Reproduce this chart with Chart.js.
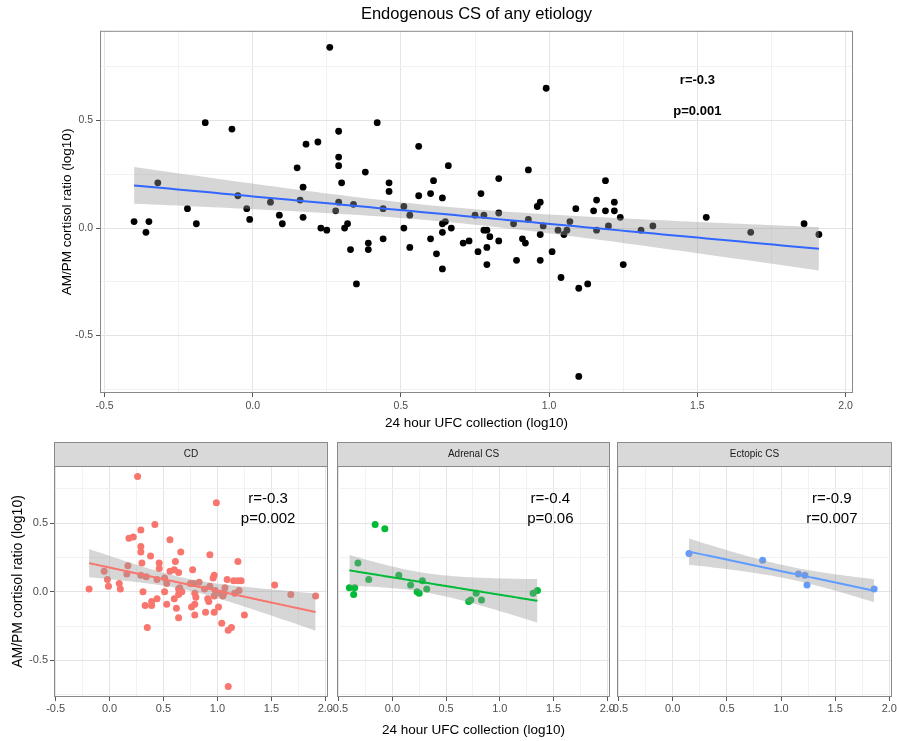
<!DOCTYPE html>
<html>
<head>
<meta charset="utf-8">
<script src="https://cdn.jsdelivr.net/npm/chart.js@4.4.1/dist/chart.umd.min.js"></script>
<style>
  html, body { margin: 0; padding: 0; background: #fff; }
  #wrap { position: relative; width: 899px; height: 741px; overflow: hidden; }
  canvas { position: absolute; }
</style>
</head>
<body>
<div id="wrap">
  <canvas id="top" width="899" height="432" style="left:0;top:0"></canvas>
  <canvas id="cd" width="350" height="311" style="left:0;top:430px"></canvas>
  <canvas id="adrenal" width="313" height="311" style="left:317px;top:430px"></canvas>
  <canvas id="ectopic" width="302" height="311" style="left:597px;top:430px"></canvas>
</div>
<script>
// x = 24 hour UFC (log10), y = AM/PM cortisol ratio (log10), one pair of arrays per etiology
const cdX = [-0.19, -0.05, -0.02, -0.01, 0.09, 0.10, 0.17, 0.16, 0.18, 0.22,
  0.26, 0.29, 0.29, 0.29, 0.30, 0.29, 0.31, 0.33, 0.34, 0.35,
  0.38, 0.39, 0.39, 0.42, 0.44, 0.44, 0.46, 0.46, 0.51, 0.51,
  0.53, 0.53, 0.56, 0.56, 0.60, 0.60, 0.61, 0.62, 0.64, 0.64,
  0.65, 0.64, 0.64, 0.66, 0.67, 0.75, 0.76, 0.77, 0.78, 0.79,
  0.79, 0.79, 0.80, 0.83, 0.88, 0.89, 0.91, 0.92, 0.93, 0.93,
  0.96, 0.97, 0.97, 0.98, 0.97, 0.99, 1.01, 1.03, 1.05, 1.06,
  1.07, 1.09, 1.04, 1.10, 1.13, 1.10, 1.15, 1.16, 1.19, 1.19,
  1.20, 1.22, 1.25, 1.53, 1.68, 1.91];
const cdY = [0.02, 0.15, 0.09, 0.04, 0.06, 0.02, 0.19, 0.13, 0.39, 0.40,
  0.84, 0.45, 0.33, 0.29, 0.21, 0.12, 0.00, -0.10, 0.11, -0.26,
  0.26, -0.07, -0.10, 0.49, 0.09, -0.05, 0.21, 0.17, 0.10, 0.00,
  0.06, -0.09, 0.38, 0.15, -0.05, 0.16, 0.22, -0.12, -0.19, 0.02,
  0.03, -0.02, 0.14, 0.29, 0.00, 0.06, -0.11, 0.16, 0.06, -0.01,
  -0.17, -0.09, -0.04, 0.07, 0.02, -0.15, -0.05, -0.07, 0.04, 0.27,
  0.10, 0.12, -0.03, 0.01, -0.15, 0.65, -0.11, -0.01, -0.03, -0.01,
  0.03, 0.09, -0.23, -0.28, -0.26, -0.69, 0.08, -0.01, 0.08, 0.22,
  0.01, 0.08, -0.17, 0.05, -0.02, -0.03];

const adrenalX = [-0.40, -0.36, -0.35, -0.32, -0.22, -0.16, -0.07, 0.06, 0.17, 0.23,
  0.25, 0.28, 0.32, 0.71, 0.73, 0.78, 0.83, 1.31, 1.35];
const adrenalY = [0.03, -0.02, 0.03, 0.21, 0.09, 0.49, 0.46, 0.12, 0.05, 0.00,
  -0.01, 0.08, 0.02, -0.07, -0.06, -0.01, -0.06, -0.01, 0.01];

const ectopicX = [0.15, 0.83, 1.16, 1.22, 1.24, 1.86];
const ectopicY = [0.28, 0.23, 0.13, 0.12, 0.05, 0.02];

const xTicks = [-0.5, 0, 0.5, 1, 1.5, 2];
const yTicks = [-0.5, 0, 0.5];
const xLim = [-0.515, 2.025];
const yLim = [-0.767, 0.917];

const allX = cdX.concat(adrenalX, ectopicX);
const allY = cdY.concat(adrenalY, ectopicY);

const FONT = '"Liberation Sans", Arial, sans-serif';
Chart.defaults.font.family = FONT;

// two-sided 95% t quantile (Cornish-Fisher expansion)
function t975(df) {
  const z = 1.959964;
  return z + (z ** 3 + z) / (4 * df) + (5 * z ** 5 + 16 * z ** 3 + 3 * z) / (96 * df * df) +
    (3 * z ** 7 + 19 * z ** 5 + 17 * z ** 3 - 15 * z) / (384 * df ** 3);
}

// least squares line with 95% confidence band, like geom_smooth(method = "lm")
function fitBand(xs, ys) {
  const n = xs.length;
  const mx = xs.reduce((a, b) => a + b, 0) / n;
  const my = ys.reduce((a, b) => a + b, 0) / n;
  let sxx = 0, sxy = 0;
  xs.forEach((x, i) => { sxx += (x - mx) ** 2; sxy += (x - mx) * (ys[i] - my); });
  const b = sxy / sxx, a = my - b * mx;
  let ss = 0;
  xs.forEach((x, i) => { ss += (ys[i] - a - b * x) ** 2; });
  const s = Math.sqrt(ss / (n - 2)), t = t975(n - 2);
  const lo = Math.min(...xs), hi = Math.max(...xs);
  const mid = [], up = [], dn = [];
  for (let k = 0; k < 80; k++) {
    const x = lo + (hi - lo) * k / 79;
    const y = a + b * x;
    const se = s * Math.sqrt(1 / n + (x - mx) ** 2 / sxx);
    mid.push({ x, y });
    up.push({ x, y: y + t * se });
    dn.push({ x, y: y - t * se });
  }
  return { mid, up, dn };
}

function gridValues(major, lim) {
  const half = (major[1] - major[0]) / 2;
  const out = [];
  for (let v = major[0] - half; v <= major[major.length - 1] + half + 1e-9; v += half) {
    if (v >= lim[0] && v <= lim[1]) out.push(Math.round(v * 1000) / 1000);
  }
  return out;
}
const isMajor = (major, v) => major.some(m => Math.abs(m - v) < 1e-6);

function axis(major, lim, o) {
  return {
    type: 'linear', min: lim[0], max: lim[1],
    afterBuildTicks: s => { s.ticks = gridValues(major, lim).map(v => ({ value: v })); },
    afterFit: o.fit,
    ticks: {
      display: o.labels !== false, autoSkip: false, maxRotation: 0, minRotation: 0,
      color: '#4D4D4D', font: { size: o.tickSize || 10.5 }, padding: o.tickPad ?? 3,
      callback: v => isMajor(major, v) ? v.toFixed(1) : ''
    },
    grid: {
      color: c => isMajor(major, c.tick.value) ? '#E4E4E4' : '#F2F2F2',
      lineWidth: 1,
      drawTicks: o.labels !== false,
      tickLength: 4,
      tickColor: c => isMajor(major, c.tick.value) ? '#555555' : 'rgba(0,0,0,0)'
    },
    border: { display: false },
    title: o.title ? { display: true, text: o.title, color: '#000', font: { size: o.titleSize || 13.5 },
      padding: o.titlePad || { top: 4, bottom: 3 } } : { display: false }
  };
}

function panelDatasets(xs, ys, pointColor, lineColor, r) {
  const fit = fitBand(xs, ys);
  return [
    { data: fit.mid, showLine: true, borderColor: lineColor, borderWidth: 2, pointRadius: 0, order: 0 },
    { data: fit.up, showLine: true, borderWidth: 0, borderColor: 'rgba(0,0,0,0)', pointRadius: 0, order: 1 },
    { data: fit.dn, showLine: true, borderWidth: 0, borderColor: 'rgba(0,0,0,0)', pointRadius: 0, order: 1,
      fill: '-1', backgroundColor: 'rgba(153,153,153,0.4)' },
    { data: xs.map((x, i) => ({ x, y: ys[i] })), pointRadius: r, pointBackgroundColor: pointColor,
      pointBorderWidth: 0, order: 2 }
  ];
}

// panel frame drawn over everything
const frame = {
  id: 'frame',
  afterDraw(chart) {
    const { ctx, chartArea: a } = chart;
    ctx.save();
    ctx.strokeStyle = '#8A8A8A';
    ctx.lineWidth = 1;
    ctx.strokeRect(a.left + 0.5, a.top + 0.5, a.right - a.left - 1, a.bottom - a.top - 1);
    ctx.restore();
  }
};

function notes(items, font) {
  return {
    id: 'notes',
    afterDatasetsDraw(chart) {
      const { ctx, scales } = chart;
      ctx.save();
      ctx.font = font;
      ctx.fillStyle = '#000';
      ctx.textAlign = 'center';
      ctx.textBaseline = 'middle';
      items.forEach(it => ctx.fillText(it.text, scales.x.getPixelForValue(it.x), scales.y.getPixelForValue(it.y)));
      ctx.restore();
    }
  };
}

function strip(label) {
  return {
    id: 'strip',
    afterDraw(chart) {
      const { ctx, chartArea: a } = chart;
      ctx.save();
      ctx.fillStyle = '#D9D9D9';
      ctx.fillRect(a.left, a.top - 24, a.right - a.left, 24);
      ctx.strokeStyle = '#8A8A8A';
      ctx.strokeRect(a.left + 0.5, a.top - 23.5, a.right - a.left - 1, 24);
      ctx.fillStyle = '#1A1A1A';
      ctx.font = '10px ' + FONT;
      ctx.textAlign = 'center';
      ctx.textBaseline = 'middle';
      ctx.fillText(label, (a.left + a.right) / 2, a.top - 12);
      ctx.restore();
    }
  };
}

const base = {
  responsive: false, animation: false, events: [],
  plugins: { legend: { display: false }, tooltip: { enabled: false } }
};

// top: all etiologies together
new Chart(document.getElementById('top'), {
  type: 'scatter',
  data: { datasets: panelDatasets(allX, allY, '#000000', '#3366FF', 3.4) },
  options: Object.assign({}, base, {
    layout: { padding: { left: 55, right: 46, top: 0, bottom: 0 } },
    plugins: {
      legend: { display: false }, tooltip: { enabled: false },
      title: { display: true, text: 'Endogenous CS of any etiology', color: '#000', fullSize: false,
        font: { size: 16.5, weight: 'normal' }, padding: { top: 5, bottom: 6 } }
    },
    scales: {
      x: axis(xTicks, xLim, { fit: s => { s.height = 39; }, title: '24 hour UFC collection (log10)',
        titlePad: { top: 2, bottom: 1 } }),
      y: axis(yTicks, yLim, { fit: s => { s.width = 45; }, title: 'AM/PM cortisol ratio (log10)' })
    }
  }),
  plugins: [frame, notes([{ x: 1.5, y: 0.687, text: 'r=-0.3' }, { x: 1.5, y: 0.54, text: 'p=0.001' }],
    'bold 13px ' + FONT)]
});

// bottom facets
const facets = [
  { id: 'cd', label: 'CD', xs: cdX, ys: cdY, color: '#F8766D', pad: { left: 10, right: 22 }, yAxis: true,
    notes: ['r=-0.3', 'p=0.002'] },
  { id: 'adrenal', label: 'Adrenal CS', xs: adrenalX, ys: adrenalY, color: '#00BA38', pad: { left: 20, right: 20 },
    xTitle: true, notes: ['r=-0.4', 'p=0.06'] },
  { id: 'ectopic', label: 'Ectopic CS', xs: ectopicX, ys: ectopicY, color: '#619CFF', pad: { left: 20, right: 7 },
    notes: ['r=-0.9', 'r=0.007'] }
];

facets.forEach(f => {
  new Chart(document.getElementById(f.id), {
    type: 'scatter',
    data: { datasets: panelDatasets(f.xs, f.ys, f.color, f.color, 3.5) },
    options: Object.assign({}, base, {
      layout: { padding: { left: f.pad.left, right: f.pad.right, top: 36, bottom: 0 } },
      scales: {
        x: axis(xTicks, xLim, { fit: s => { s.height = 44; }, tickPad: 1, tickSize: 11,
          title: f.xTitle ? '24 hour UFC collection (log10)' : null, titlePad: { top: 2, bottom: 3 } }),
        y: f.yAxis
          ? axis(yTicks, yLim, { fit: s => { s.width = 44; }, tickPad: 2, tickSize: 11,
            title: 'AM/PM cortisol ratio (log10)', titleSize: 14, titlePad: { top: 0, bottom: 2 } })
          : axis(yTicks, yLim, { fit: s => { s.width = 0; }, labels: false })
      }
    }),
    plugins: [frame, strip(f.label),
      notes([{ x: 1.47, y: 0.68, text: f.notes[0] }, { x: 1.47, y: 0.53, text: f.notes[1] }],
        '15px ' + FONT)]
  });
});
</script>
</body>
</html>
